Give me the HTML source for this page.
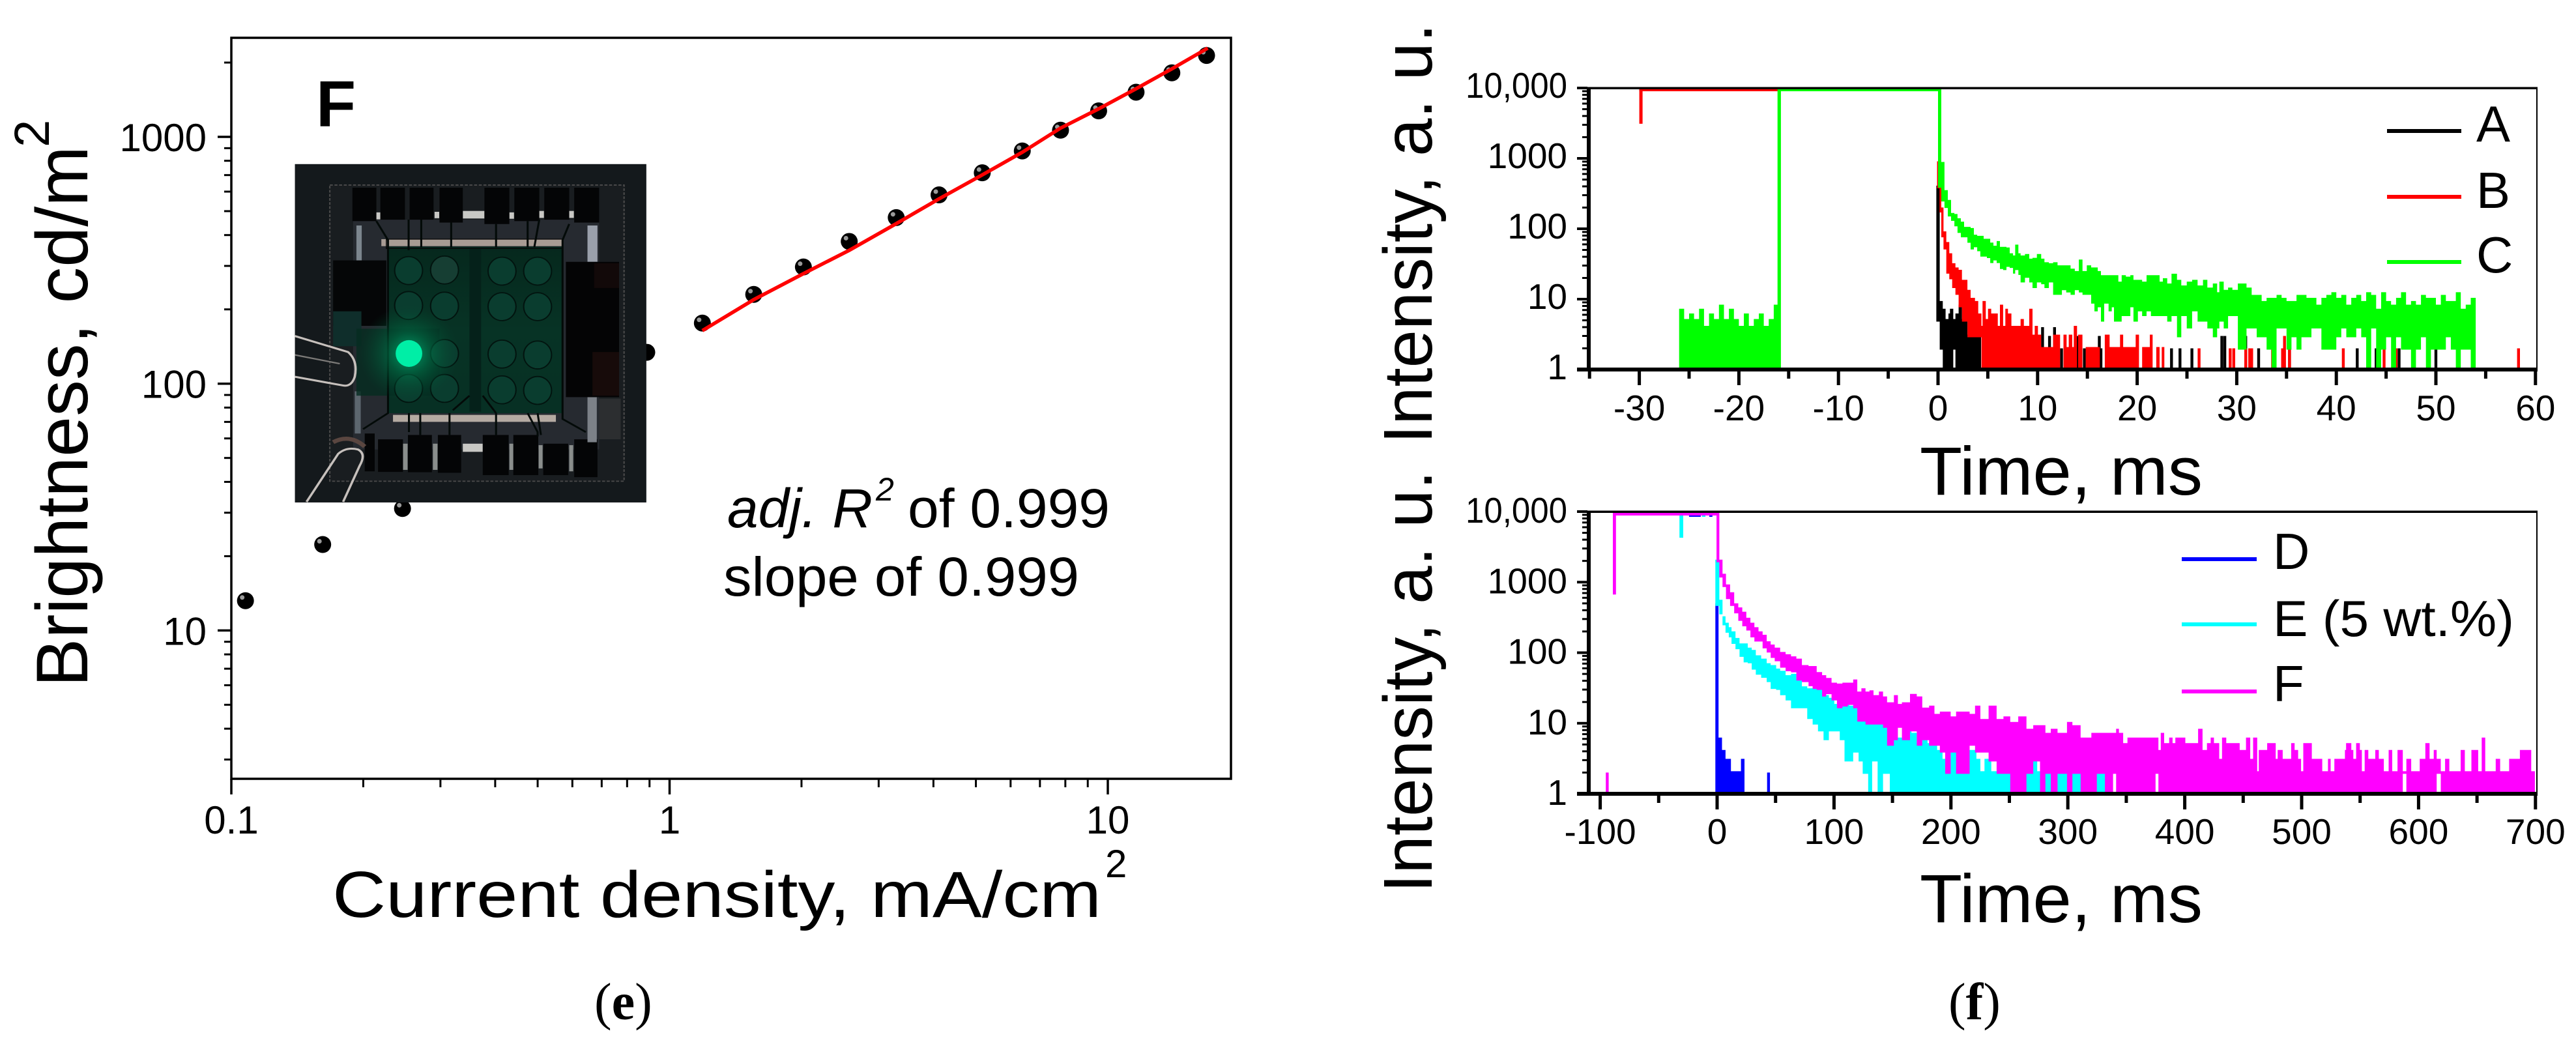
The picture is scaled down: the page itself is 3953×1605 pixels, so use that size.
<!DOCTYPE html>
<html lang="en">
<head>
<meta charset="utf-8">
<title>Brightness and transient intensity charts</title>
<style>
html,body{margin:0;padding:0;background:#fff;}
svg{display:block;font-family:"Liberation Sans",Arial,sans-serif;}
</style>
</head>
<body>
<svg id="fig" xmlns="http://www.w3.org/2000/svg" width="3953" height="1605" viewBox="0 0 3953 1605">
<defs>
<radialGradient id="glow"><stop offset="0" stop-color="#00c080" stop-opacity=".8"/><stop offset=".45" stop-color="#007a4c" stop-opacity=".5"/><stop offset="1" stop-color="#005030" stop-opacity="0"/></radialGradient>
<linearGradient id="oledGreen" x1="0" y1="0" x2="0" y2="1"><stop offset="0" stop-color="#06281d"/><stop offset=".5" stop-color="#073325"/><stop offset="1" stop-color="#073024"/></linearGradient>
</defs>
<rect width="3953" height="1605" fill="#fff"/>

<g id="panelE"></g>

<g>
<svg x="450" y="250" width="800" height="700" viewBox="0 0 1568 1568" preserveAspectRatio="none">
<rect x="5" y="4" width="1057" height="1163" fill="#14191c"/>
<rect x="110" y="76" width="885" height="1018" fill="#191d20" stroke="#4c4c4c" stroke-width="4" stroke-dasharray="9 5"/>
<rect x="180" y="195" width="740" height="790" fill="#262a30"/>
<g fill="#c8c8c4">
<rect x="510" y="165" width="65" height="26"/><rect x="250" y="170" width="12" height="24"/><rect x="425" y="168" width="14" height="22"/><rect x="650" y="170" width="14" height="22"/><rect x="740" y="165" width="14" height="24"/><rect x="830" y="165" width="14" height="24"/>
<rect x="510" y="965" width="60" height="28"/><rect x="330" y="965" width="14" height="90" fill="#8a8e8c"/><rect x="420" y="965" width="14" height="90" fill="#8a8e8c"/><rect x="650" y="965" width="12" height="90" fill="#8a8e8c"/><rect x="738" y="970" width="12" height="80" fill="#8a8e8c"/><rect x="830" y="970" width="12" height="90" fill="#8a8e8c"/>
</g>
<g fill="#040506">
<rect x="178" y="85" width="72" height="115"/><rect x="262" y="85" width="74" height="110"/><rect x="350" y="85" width="72" height="110"/><rect x="440" y="85" width="70" height="120"/><rect x="575" y="85" width="75" height="125"/><rect x="665" y="85" width="75" height="115"/><rect x="755" y="85" width="75" height="110"/><rect x="845" y="85" width="75" height="120"/>
<rect x="255" y="950" width="75" height="112"/><rect x="345" y="935" width="72" height="128"/><rect x="435" y="935" width="70" height="130"/><rect x="570" y="935" width="78" height="138"/><rect x="662" y="935" width="75" height="138"/><rect x="752" y="965" width="75" height="108"/><rect x="845" y="950" width="70" height="130"/><rect x="215" y="930" width="30" height="130"/>
</g>
<rect x="190" y="215" width="16" height="120" fill="#7c868e"/>
<rect x="885" y="215" width="30" height="125" fill="#9aa0ab"/>
<rect x="885" y="535" width="30" height="100" fill="#9aa0a8"/>
<rect x="885" y="805" width="28" height="155" fill="#7c8188"/>
<rect x="185" y="785" width="18" height="145" fill="#5c666e"/>
<rect x="920" y="810" width="65" height="140" fill="#2c2e30"/>
<rect x="120" y="335" width="160" height="225" fill="#050607"/>
<rect x="820" y="340" width="160" height="465" fill="#040405"/>
<rect x="900" y="650" width="80" height="150" fill="#170b0a"/>
<rect x="905" y="345" width="75" height="85" fill="#120909"/>
<rect x="120" y="510" width="85" height="120" fill="#0f2e2b"/>
<rect x="285" y="288" width="525" height="572" fill="url(#oledGreen)"/>
<rect x="190" y="570" width="250" height="230" fill="#052c20" opacity=".8"/>
<rect x="530" y="295" width="35" height="560" fill="#05211a"/>
<rect x="265" y="262" width="545" height="24" fill="#a89c94"/>
<rect x="300" y="866" width="490" height="24" fill="#b4aaa2"/>
<rect x="280" y="262" width="530" height="32" fill="none" stroke="#080808" stroke-width="3"/>
<g fill="none" stroke="#030a08" stroke-width="6">
<path d="M250 200L285 265V860L210 915M347 195V300M385 195V290M475 205V290M610 210V290M705 200V290M740 195L725 290M830 210L810 265V880L880 925M348 860V925M382 860V935M470 860V935M610 860V935M705 860L735 925V940M735 860L745 935"/>
<path d="M570 800L610 860M530 800L480 850"/>
</g>
<g fill="#0a3d2f" stroke="#02140f" stroke-width="4">
<ellipse cx="347" cy="370" rx="42" ry="48"/><ellipse cx="455" cy="368" rx="42" ry="48" fill="#163e33"/><ellipse cx="628" cy="372" rx="42" ry="48"/><ellipse cx="735" cy="372" rx="42" ry="48"/>
<ellipse cx="347" cy="490" rx="42" ry="48"/><ellipse cx="455" cy="492" rx="42" ry="48"/><ellipse cx="628" cy="494" rx="42" ry="48"/><ellipse cx="735" cy="494" rx="42" ry="48"/>
<ellipse cx="455" cy="655" rx="42" ry="48"/><ellipse cx="628" cy="657" rx="42" ry="48"/><ellipse cx="735" cy="660" rx="42" ry="48"/>
<ellipse cx="347" cy="775" rx="42" ry="48"/><ellipse cx="455" cy="775" rx="42" ry="48"/><ellipse cx="628" cy="780" rx="42" ry="48"/><ellipse cx="735" cy="782" rx="42" ry="48"/>
</g>
<ellipse cx="348" cy="655" rx="150" ry="165" fill="url(#glow)"/>
<ellipse cx="348" cy="655" rx="40" ry="46" fill="#00eea6"/>
<g fill="none" stroke="#c6c0bc" stroke-width="7">
<path d="M5 595L165 650Q195 680 185 735Q175 770 150 765L5 735"/>
<path d="M5 660L140 690" stroke-width="5" stroke="#7c7a78"/>
<path d="M40 1165L135 1000Q160 975 195 985Q220 1000 200 1040L150 1165"/>
</g>
<path d="M120 960Q170 930 215 975" fill="none" stroke="#5a4640" stroke-width="14"/>
</svg>
</g>

<g>
<text x="485" y="194" font-size="100" font-weight="bold">F</text>
<text x="1116" y="809" font-size="84" font-style="italic" textLength="223" lengthAdjust="spacingAndGlyphs">adj. R</text>
<text x="1344" y="768" font-size="50" font-style="italic">2</text>
<text x="1393" y="809" font-size="84" textLength="310" lengthAdjust="spacingAndGlyphs">of 0.999</text>
<text x="1110" y="914" font-size="84" textLength="546" lengthAdjust="spacingAndGlyphs">slope of 0.999</text>
<text x="510" y="1407" font-size="100" textLength="1180" lengthAdjust="spacingAndGlyphs">Current density, mA/cm</text>
<text x="1696" y="1346" font-size="60">2</text>
<text transform="translate(134,1054) rotate(-90)" font-size="112" textLength="830" lengthAdjust="spacingAndGlyphs">Brightness, cd/m</text>
<text transform="translate(75,226) rotate(-90)" font-size="76">2</text>
<text x="912" y="1564" font-size="80" font-family="'Liberation Serif',serif">(<tspan font-weight="bold">e</tspan>)</text>
<text x="2990" y="1564" font-size="80" font-family="'Liberation Serif',serif">(<tspan font-weight="bold">f</tspan>)</text>
<text transform="translate(2197,681) rotate(-90)" font-size="106" textLength="645" lengthAdjust="spacingAndGlyphs">Intensity, a. u.</text>
<text transform="translate(2197,1370) rotate(-90)" font-size="106" textLength="648" lengthAdjust="spacingAndGlyphs">Intensity, a. u.</text>
<text x="2946" y="759" font-size="105" textLength="434" lengthAdjust="spacingAndGlyphs">Time, ms</text>
<text x="2946" y="1415" font-size="105" textLength="434" lengthAdjust="spacingAndGlyphs">Time, ms</text>
</g>

<g id="panelTop"></g>
<g id="panelBottom"></g>

<g>
<g><rect x="3663" y="198" width="114" height="6" fill="#000"/><text x="3800" y="217" font-size="78">A</text></g>
<g><rect x="3663" y="299" width="114" height="6" fill="#f00"/><text x="3800" y="319" font-size="78">B</text></g>
<g><rect x="3663" y="399" width="114" height="6" fill="#0f0"/><text x="3800" y="418" font-size="78">C</text></g>
</g>
<g>
<g><rect x="3348" y="855" width="115" height="6" fill="#00f"/><text x="3488" y="873" font-size="78">D</text></g>
<g><rect x="3348" y="955" width="115" height="6" fill="#0ff"/><text x="3488" y="976" font-size="78" textLength="370" lengthAdjust="spacingAndGlyphs">E (5 wt.%)</text></g>
<g><rect x="3348" y="1058" width="115" height="6" fill="#f0f"/><text x="3488" y="1076" font-size="78">F</text></g>
</g>
</svg>

<script>
// ---- Brightness panel data (mA/cm2, cd/m2) ----
const currentDensity = [0.1077,0.1616,0.2458,0.887,1.188,1.556,2.02,2.57,3.29,4.12,5.17,6.38,7.80,9.53,11.6,14.0,16.8];
const brightness = [13.2,22.3,31.2,134,176,230,297,377,471,582,715,877,1064,1274,1517,1817,2137];
const fitCurrent = [1.188,1.556,2.02,2.57,3.29,4.12,5.17,6.38,7.80,9.53,11.6,14.0,16.9];
const fitBrightness = [164,219,279,347,445,561,701,866,1085,1299,1566,1887,2287];
const brightXMajor = [0.1,1,10];
const brightXLabels = ["0.1","1","10"];
const brightXMinor = [0.2,0.3,0.4,0.5,0.6,0.7,0.8,0.9,2,3,4,5,6,7,8,9];
const brightYMajor = [10,100,1000];
const brightYLabels = ["10","100","1000"];
const brightYMinor = [3,4,5,6,7,8,9,20,30,40,50,60,70,80,90,200,300,400,500,600,700,800,900,2000];

// ---- Top decay panel (ms, counts): each bar spans its time to the next time ----
const topXMajor = [-30,-20,-10,0,10,20,30,40,50,60];
const topXLabels = ["-30","-20","-10","0","10","20","30","40","50","60"];
const topXMinor = [-35,-25,-15,-5,5,15,25,35,45,55];
const decayYMajor = [10000,1000,100,10,1];
const decayYLabels = ["10,000","1000","100","10","1"];
const decayYMinor = [2,3,4,5,6,7,8,9,20,30,40,50,60,70,80,90,200,300,400,500,600,700,800,900,2000,3000,4000,5000,6000,7000,8000,9000];

const aTime = [-30,-0.17,0.17,0.48,0.76,1.05,1.2,1.53,1.75,2.07,2.4,2.95,4.32];
const aHigh = [9380,392,9,7,5,6,7,5,6,8,5,3,1];
const aLow  = [9380,5,2,1,1,1,1,2,1,1,1,1,1];
const aSpikeTime = [5.6,7.37,8.07,9.38,10.5,11.2,11.7,12.4,14.07,14.7,16.2,16.36,17.56,19,19.74,23.45,24.3,25.5,28.5,28.8,30.9,32.2,35.3,42.1,44,46.3,50];
const aSpikeValue = [2,2,4,2,4,3,4,2,3,2,3,2,2,2,2,2,2,2,3,3,3,2,2,2,2,2,2];

const bTime = [-30,-29.67,-0.1,0.15,0.33,0.55,0.83,1.13,1.42,1.75,2.07,2.4,2.95,3.27,3.71,4.04,4.36,4.47,4.8,5.02,5.34,6,6.22,6.54,6.76,7.02,7.37,8.29,8.62,9.16,9.49,9.71,10.03,10.36,11.56,12.26,12.6,12.91,13.13,13.48,13.63,13.96,14.07,14.5,14.83,16.25,16.75,17.23,18.28,18.59,19.85,20.18,20.5,21.27,21.55,21.92,22.25,22.47,22.73];
const bHigh = [9380,9380,870,437,192,88,62,43,31,27,25,18,13,10,9,6,4,9,5,7,6,4,8,4,7,6,4,5,4,7,3,4,3,2,3,1,3,2,3,2,4,1,3,1,2,1,3,2,3,2,3,1,2,3,1,2,1,2,1];
const bLow  = [3235,9380,392,178,79,53,24,20,15,12,8,5,3,3,3,3,1,1,1,1,1,1,1,1,1,1,1,1,1,1,1,1,1,1,1,1,1,1,1,1,1,1,1,1,1,1,1,1,1,1,1,1,1,1,1,1,1,1,1];
const bSpikeTime = [26.22,29.34,29.7,30.9,31.3,31.5,33.6,33.8,34.6,34.8,35.3,40.7,44.8,46,58.3];
const bSpikeValue = [2,2,2,2,2,2,2,2,2,3,2,2,2,2,2];

const cTime = [-26,-25.5,-25,-24.5,-24,-23.5,-23,-22.5,-22,-21.5,-21,-20.5,-20,-19.5,-19,-18.5,-18,-17.5,-17,-16.5,-16.12,-15.78,0,
 0.33,0.65,0.98,1.31,1.64,1.96,2.29,2.62,2.95,3.27,
 3.6,3.93,4.25,4.58,4.91,5.24,5.56,5.89,6.22,6.54,
 6.87,7.2,7.53,7.75,8.07,8.29,8.73,9.16,9.49,9.93,
 10.36,10.69,11.13,11.56,12,12.44,12.87,13.31,13.74,14.14,
 14.51,14.94,15.38,15.71,16.04,16.36,16.69,17.13,17.45,17.67,
 18.11,18.44,18.87,19.31,19.63,20.07,20.5,20.94,21.38,21.92,
 22.25,22.58,23.02,23.45,24,24.43,24.98,25.52,26.07,26.61,
 27.05,27.6,28.03,28.25,28.69,29.13,29.56,30.11,30.54,30.98,
 31.5,32,32.5,33,33.5,34,34.5,35,35.5,36,36.5,37,37.5,38,38.5,39,39.5,40,40.5,41,41.5,42,42.5,43,43.5,44,44.5,45,45.5,46,46.5,47,47.5,48,48.5,49,49.5,50,50.5,51,51.5,52,52.5,53,53.5,54];
const cHigh = [7,5,6,5,7,4,6,5,8,5,7,5,4,6,4,5,6,4,5,8,9380,9380,9380,
 853,339,246,161,155,135,121,102,102,98,
 79,76,76,69,69,61,55,64,53,53,
 52,43,40,57,43,40,42,36,37,42,
 36,32,31,32,29,29,29,26,24,35,
 24,29,27,27,24,21,21,21,21,21,
 17,21,20,21,18,18,17,21,21,21,
 17,19,16,22,18,15,17,18,15,18,
 14,16,12,17,13,14,13,16,16,14,
 11,11,9,10,10,11,10,9,9,11,11,10,10,8,10,11,12,10,11,8,10,11,9,12,11,7,12,9,8,10,12,8,9,8,11,10,10,8,11,9,9,12,7,8,10,1];
const cLow = [1,1,1,1,1,1,1,1,1,1,1,1,1,1,1,1,1,1,1,1,1,9380,400,
 255,206,156,135,113,91,79,79,66,53,
 57,50,42,42,40,34,37,34,28,27,
 30,29,24,27,23,18,21,18,15,18,
 17,15,18,12,12,14,13,12,14,13,
 12,12,9,7,8,5,9,7,8,5,
 5,6,6,8,5,7,6,7,6,6,
 6,6,5,6,3,6,4,7,5,5,
 4,3,4,5,4,6,6,2,2,4,
 4,3,3,2,1,4,4,2,3,2,3,3,4,4,2,2,2,3,4,3,3,4,3,1,4,1,2,3,1,3,2,2,1,2,3,1,2,2,2,3,2,1,2,2,1,1];

// ---- Bottom decay panel ----
const botXMajor = [-100,0,100,200,300,400,500,600,700];
const botXLabels = ["-100","0","100","200","300","400","500","600","700"];
const botXMinor = [-50,50,150,250,350,450,550,650];

const dTime = [-24,-14,-6.7,-4,-1.5,1.2,4.2,7.2,11.8,20.4,23.4];
const dHigh = [8800,1,8800,1,480,6,4,3,2,3,1];
const dLow  = [8800,1,8800,1,1,1,1,1,1,1,1];
const dSpikeTime = [44];
const dSpikeValue = [2];

const eTime = [-32.2,-29,-13,-10,-1.5,
 1.9,4.6,7.2,10,12.3,15.7,19.2,22.7,26.2,29.6,
 33.1,37.7,42.4,45.8,50.5,53.9,58.6,63.2,67.8,72.5,
 77.1,81.7,86.3,91,95.6,100.2,104.9,109,113,116.4,
 121,124.5,129.2,132.6,137.3,141.9,147.7,152.3,158.1,162.7,
 166.2,170.8,175.5,180,184.7,188.2,192.8,199.8,205.6,207.9,
 211.3,216,221.8,225.2,228.7,234.5,240.3,251.9,257.6,273.8,
 280.8,285.4,336];
const eHigh = [9000,1,8800,1,2000,
 540,315,255,220,192,155,130,130,113,105,
 88,79,68,64,57,53,46,48,40,32,
 30,33,29,24,22,18,18,20,17,17,
 13,12,10,10,10,9,6,6,6,8,
 7,5,7,5,6,4,3,4,2,4,
 3,4,3,2,3,2,2,2,3,2,
 2,2,1];
const eLow = [4450,1,8800,1,480,
 365,255,200,172,139,117,91,76,74,60,
 51,46,40,32,31,26,22,17,17,17,
 12,10,8,6,8,8,6,3,3,4,
 3,2,1,3,1,2,1,1,1,1,
 1,1,1,1,1,1,1,1,1,1,
 1,1,1,1,1,1,1,1,1,1,
 1,1,1];

const fTime = [-89.2,-86.5,-0.5,
 1.9,4.6,7.6,11.1,14.6,18.1,21.5,25,28.5,31.9,
 35.4,38.9,42.4,45.8,49.3,53.9,58.6,63.2,67.8,72.5,
 78.2,81.7,85.2,89.8,93.3,97.9,102.5,107.2,111.8,116.4,
 119.9,123.4,126.9,130.3,133.8,138.4,141.9,145.4,151.2,154.6,
 158.1,165,170.8,175.5,181.3,185.9,190.5,195.1,199.8,204.4,
 210.2,216,220.6,225.2,232.2,239.1,244.9,250.7,257.6,264.6,
 270.4,276.2,280.8,285.4,291.2,299.3,303.9,310.9,320.1,324.8,
 331.7,338.7,
 341.3,343.7,347.3,351,367.9,375,377.5,379.5,382.4,386.7,389.6,392,400.5,411.4,415.2,419,422.2,425,429.5,431.9,435.5,447,452.4,456,458.5,462,463.3,470.5,477.8,479.5,483.8,491,494,497,499.5,501.4,508.7,517.6,522.5,524.8,528,537,538,542.5,544.2,546.6,549.8,551.5,553.9,557,563,566,570.3,574.4,577.5,582,586.5,589.6,593.7,601,605.8,609.4,613,615.5,619,622.7,626.3,636,639.6,645.2,651,654,657,661.4,666,669.8,677.5,686.7,696.4,699.5];
const fHigh = [9180,9180,9180,
 2000,1260,890,690,480,420,365,300,255,220,
 192,172,139,125,113,98,91,85,79,64,
 62,62,51,46,42,36,35,36,36,40,
 27,30,27,28,24,27,23,19,24,18,
 19,25,23,16,17,13,14,14,12,14,
 14,13,17,11,17,11,12,10,12,8,
 9,9,7,8,7,10,9,6,7,7,
 7,7,
 8,7,5,6,6,6,4,7,5,6,5,6,5,8,4,5,6,5,3,6,5,4,6,3,6,2,4,5,3,4,3,5,4,3,2,5,3,2,3,2,3,4,5,4,3,5,4,2,4,3,4,3,2,4,2,4,2,3,2,3,5,3,4,3,2,3,2,4,2,4,2,6,2,2,3,2,3,4,2,1];
const fLow = [697,9180,2000,
 1215,890,600,480,377,295,247,215,172,150,
 150,120,105,88,79,64,57,55,42,40,
 35,32,31,25,27,22,17,18,19,17,
 11,11,10,10,10,10,9,5,6,9,
 6,8,5,6,5,5,4,2,4,2,
 2,5,4,4,3,2,2,1,1,2,
 3,1,2,1,2,1,2,1,1,2,
 1,2,
 1,1,1,1,1,2,1,1,1,1,1,1,1,1,1,1,1,1,1,1,1,1,1,1,1,1,1,1,1,1,1,1,1,1,1,1,1,1,1,1,1,1,1,1,1,1,1,1,1,1,1,1,1,1,1,1,2,1,1,1,1,1,1,2,1,1,1,1,1,1,1,1,1,1,1,1,1,1,1,1,2,1];
const fSpikeTime = [-94];
const fSpikeValue = [2];

// ---- Axis functions ----
const log10 = Math.log10;
function xBright(v){ return 355 + (log10(v) + 1) * 672.5; }
function yBright(v){ return 210 + (3 - log10(v)) * 378.7; }
function xTop(t){ return 2974 + t * 15.28; }
function yTop(v){ return 567 - log10(v) * 108; }
function xBot(t){ return 2635 + t * 1.794; }
function yBot(v){ return 1218 - log10(v) * 108.25; }

const NS = 'http://www.w3.org/2000/svg';
function mk(parent, tag, attrs, name){
  const el = document.createElementNS(NS, tag);
  for (const k in attrs) el.setAttribute(k, attrs[k]);
  
  
  parent.appendChild(el);
  return el;
}
function label(parent, x, y, str, size, anchor, name, len){
  const el = mk(parent, 'text', {x:x, y:y, 'font-size':size, 'text-anchor':anchor}, name);
  if (len) { el.setAttribute('textLength', len); el.setAttribute('lengthAdjust', 'spacingAndGlyphs'); }
  el.textContent = str;
  return el;
}

// envelope bars: every bar runs from its time to the next time, from low to high count
function bars(parent, time, high, low, fx, fy, color, name){
  let d = '';
  for (let i = 0; i + 1 < time.length; i++) {
    const x0 = fx(time[i]), x1 = fx(time[i + 1]);
    const yH = fy(high[i]) - 2, yL = fy(low[i]) + 2;
    d += 'M' + x0.toFixed(1) + ' ' + yH.toFixed(1) + 'H' + x1.toFixed(1) + 'V' + yL.toFixed(1) + 'H' + x0.toFixed(1) + 'Z';
  }
  mk(parent, 'path', {d:d, fill:color}, name);
}
function spikes(parent, time, value, fx, fy, color, name){
  let d = '';
  for (let i = 0; i < time.length; i++) {
    const x0 = fx(time[i]) - 2.2, x1 = fx(time[i]) + 2.2;
    d += 'M' + x0.toFixed(1) + ' ' + fy(value[i]).toFixed(1) + 'H' + x1.toFixed(1) + 'V' + fy(1).toFixed(1) + 'H' + x0.toFixed(1) + 'Z';
  }
  mk(parent, 'path', {d:d, fill:color}, name);
}

// ---- Brightness panel ----
(function(){
  const g = document.getElementById('panelE');
  mk(g, 'rect', {x:355, y:58, width:1534, height:1137, fill:'none', stroke:'#000', 'stroke-width':3.5}, 'plot-frame');
  brightXMajor.forEach(function(v, i){
    mk(g, 'line', {x1:xBright(v), x2:xBright(v), y1:1195, y2:1219, stroke:'#000', 'stroke-width':3.5}, 'x-major-tick');
    label(g, xBright(v), 1279, brightXLabels[i], 60, 'middle', 'x-tick-label');
  });
  brightXMinor.forEach(function(v){
    mk(g, 'line', {x1:xBright(v), x2:xBright(v), y1:1195, y2:1208, stroke:'#000', 'stroke-width':3}, 'x-minor-tick');
  });
  brightYMajor.forEach(function(v, i){
    mk(g, 'line', {x1:334, x2:355, y1:yBright(v), y2:yBright(v), stroke:'#000', 'stroke-width':3.5}, 'y-major-tick');
    label(g, 317, yBright(v) + 22, brightYLabels[i], 60, 'end', 'y-tick-label');
  });
  brightYMinor.forEach(function(v){
    mk(g, 'line', {x1:344, x2:355, y1:yBright(v), y2:yBright(v), stroke:'#000', 'stroke-width':3}, 'y-minor-tick');
  });
  currentDensity.forEach(function(v, i){
    const cx = xBright(v), cy = yBright(brightness[i]);
    mk(g, 'circle', {cx:cx, cy:cy, r:13, fill:'#000'}, 'data-point');
    mk(g, 'circle', {cx:cx - 5, cy:cy - 5, r:3.5, fill:'#9a9a9a'}, 'data-point-highlight');
  });
  const pts = fitCurrent.map(function(v, i){ return xBright(v).toFixed(1) + ',' + yBright(fitBrightness[i]).toFixed(1); }).join(' ');
  mk(g, 'polyline', {points:pts, fill:'none', stroke:'#f00', 'stroke-width':5.5}, 'linear-fit-line');
})();

// ---- Decay panels ----
function decayFrame(g, top, fy, fx, major, labels, minor, labelBase, yOff, prefix){
  const bottom = fy(1);
  mk(g, 'rect', {x:3892, y:top, width:2, height:bottom - top, fill:'#000'}, prefix + '-right-axis');
  mk(g, 'rect', {x:2420, y:top - 1.5, width:1474, height:3.5, fill:'#000'}, prefix + '-top-axis');
  mk(g, 'rect', {x:2435, y:top, width:6, height:bottom - top + 2, fill:'#000'}, prefix + '-left-axis');
  mk(g, 'rect', {x:2420, y:bottom - 3, width:1474, height:6, fill:'#000'}, prefix + '-bottom-axis');
  decayYMajor.forEach(function(v, i){
    mk(g, 'rect', {x:2420, y:fy(v) - 2, width:16, height:4, fill:'#000'}, prefix + '-y-major-tick');
    label(g, 2405, fy(v) + yOff, decayYLabels[i], 55, 'end', prefix + '-y-tick-label', decayYLabels[i].length === 6 ? 156 : 0);
  });
  decayYMinor.forEach(function(v){
    mk(g, 'rect', {x:2428, y:fy(v) - 1.5, width:8, height:3, fill:'#000'}, prefix + '-y-minor-tick');
  });
  major.forEach(function(v, i){
    mk(g, 'rect', {x:fx(v) - 2.5, y:bottom, width:5, height:24, fill:'#000'}, prefix + '-x-major-tick');
    label(g, fx(v), labelBase, labels[i], 55, 'middle', prefix + '-x-tick-label');
  });
  minor.forEach(function(v){
    mk(g, 'rect', {x:fx(v) - 2.5, y:bottom, width:5, height:14, fill:'#000'}, prefix + '-x-minor-tick');
  });
}
(function(){
  const g = document.getElementById('panelTop');
  bars(g, aTime, aHigh, aLow, xTop, yTop, '#000', 'series-a');
  spikes(g, aSpikeTime, aSpikeValue, xTop, yTop, '#000', 'series-a-tail');
  bars(g, bTime, bHigh, bLow, xTop, yTop, '#f00', 'series-b');
  spikes(g, bSpikeTime, bSpikeValue, xTop, yTop, '#f00', 'series-b-tail');
  bars(g, cTime, cHigh, cLow, xTop, yTop, '#0f0', 'series-c');
  decayFrame(g, 135, yTop, xTop, topXMajor, topXLabels, topXMinor, 645, 15, 'top');
})();
(function(){
  const g = document.getElementById('panelBottom');
  bars(g, dTime, dHigh, dLow, xBot, yBot, '#00f', 'series-d');
  spikes(g, dSpikeTime, dSpikeValue, xBot, yBot, '#00f', 'series-d-tail');
  bars(g, eTime, eHigh, eLow, xBot, yBot, '#0ff', 'series-e');
  bars(g, fTime, fHigh, fLow, xBot, yBot, '#f0f', 'series-f');
  spikes(g, fSpikeTime, fSpikeValue, xBot, yBot, '#f0f', 'series-f-precursor');
  decayFrame(g, 785, yBot, xBot, botXMajor, botXLabels, botXMinor, 1295, 17, 'bottom');
})();
</script>
</body>
</html>
